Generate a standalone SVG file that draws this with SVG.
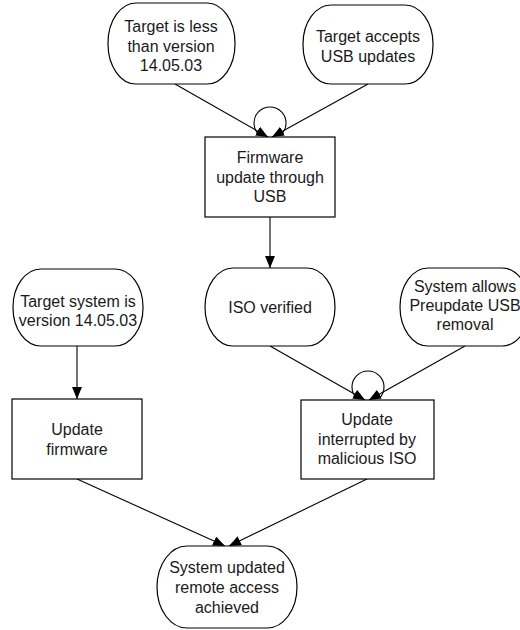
<svg xmlns="http://www.w3.org/2000/svg" width="520" height="630" viewBox="0 0 520 630">
<defs>
<style>
.n{fill:#fff;stroke:#000;stroke-width:1.2}
.t{font-family:"Liberation Sans",Arial,sans-serif;font-size:16px;fill:#1a1a1a;text-anchor:middle}
.c{fill:none;stroke:#000;stroke-width:1.1}
</style>
<marker id="ah" viewBox="0 0 12 10" refX="12" refY="5" markerWidth="12" markerHeight="10" markerUnits="userSpaceOnUse" orient="auto">
<path d="M0,0 L12,5 L0,10 Z" fill="#000"/>
</marker>
</defs>
<rect width="520" height="630" fill="#fff"/>
<g id="connectors">
<line class="c" x1="175" y1="84" x2="268" y2="137" marker-end="url(#ah)"/>
<line class="c" x1="368" y1="84" x2="272" y2="137" marker-end="url(#ah)"/>
<path class="c" d="M259.4,135 A16,16 0 1 1 280.6,135"/>
<line class="c" x1="270" y1="217" x2="270" y2="268" marker-end="url(#ah)"/>
<line class="c" x1="77" y1="346" x2="77" y2="399" marker-end="url(#ah)"/>
<line class="c" x1="270" y1="346" x2="365" y2="400" marker-end="url(#ah)"/>
<line class="c" x1="465" y1="346" x2="369" y2="400" marker-end="url(#ah)"/>
<path class="c" d="M356.4,398 A16,16 0 1 1 379.6,398"/>
<line class="c" x1="77" y1="479" x2="225" y2="546" marker-end="url(#ah)"/>
<line class="c" x1="367" y1="479" x2="229" y2="546" marker-end="url(#ah)"/>
</g>
<g id="n1">
<rect class="n" x="108" y="3" width="127" height="81" rx="28" ry="40"/>
<text class="t" x="171" y="32">Target is less</text>
<text class="t" x="171" y="52">than version</text>
<text class="t" x="171" y="71">14.05.03</text>
</g>
<g id="n2">
<rect class="n" x="303" y="5" width="130" height="79" rx="28" ry="39"/>
<text class="t" x="368" y="42">Target accepts</text>
<text class="t" x="368" y="62">USB updates</text>
</g>
<g id="n3">
<rect class="n" x="205" y="137" width="130" height="80"/>
<text class="t" x="270" y="163">Firmware</text>
<text class="t" x="270" y="183">update through</text>
<text class="t" x="270" y="202">USB</text>
</g>
<g id="n4">
<rect class="n" x="13" y="269" width="130" height="77" rx="28" ry="38"/>
<text class="t" x="78" y="307">Target system is</text>
<text class="t" x="78" y="326">version 14.05.03</text>
</g>
<g id="n5">
<rect class="n" x="205" y="268" width="130" height="78" rx="28" ry="39"/>
<text class="t" x="270" y="313">ISO verified</text>
</g>
<g id="n6">
<rect class="n" x="400" y="268" width="130" height="78" rx="28" ry="39"/>
<text class="t" x="465" y="292">System allows</text>
<text class="t" x="465" y="311">Preupdate USB</text>
<text class="t" x="465" y="330">removal</text>
</g>
<g id="n7">
<rect class="n" x="12" y="399" width="130" height="80"/>
<text class="t" x="77" y="435">Update</text>
<text class="t" x="77" y="455">firmware</text>
</g>
<g id="n8">
<rect class="n" x="301" y="400" width="133" height="79"/>
<text class="t" x="367" y="425">Update</text>
<text class="t" x="367" y="445">interrupted by</text>
<text class="t" x="367" y="464">malicious ISO</text>
</g>
<g id="n9">
<rect class="n" x="157" y="546" width="140" height="82" rx="30" ry="41"/>
<text class="t" x="227" y="573">System updated</text>
<text class="t" x="227" y="593">remote access</text>
<text class="t" x="227" y="613">achieved</text>
</g>
</svg>
